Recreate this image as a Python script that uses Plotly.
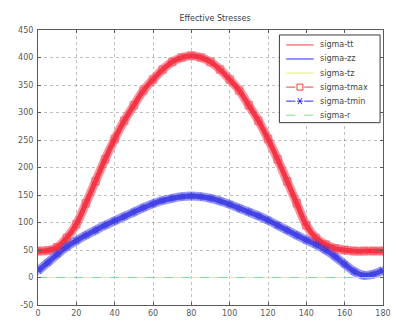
import plotly.graph_objects as go

# ---- data ----
theta = [0, 5, 10, 15, 20, 25, 30, 35, 40, 45, 50, 55, 60, 65, 70, 75, 80, 85, 90,
         95, 100, 105, 110, 115, 120, 125, 130, 135, 140, 145, 150, 155, 160, 165, 170, 175, 180]
sigma_tmax = [48, 49, 55, 72, 97, 135, 175, 215, 252, 285, 313, 340, 360, 378, 392, 400, 403, 400, 392,
              378, 360, 340, 313, 285, 252, 215, 175, 135, 95, 72, 60, 53, 50, 48, 48, 48, 48]
sigma_tmin = [12, 27, 42, 56, 67, 77, 86, 95, 103, 111, 119, 127, 134, 140, 144, 147, 148, 147, 144,
              139, 133, 126, 119, 112, 104, 95, 86, 77, 68, 60, 50, 38, 24, 11, 4, 6, 13]
sigma_tt = sigma_tmax
sigma_zz = sigma_tmin
sigma_tz = [0] * len(theta)
sigma_r = [0] * len(theta)

title = "Effective Stresses"
x_ticks = [0, 20, 40, 60, 80, 100, 120, 140, 160, 180]
y_ticks = [-50, 0, 50, 100, 150, 200, 250, 300, 350, 400, 450]

RED = "rgb(255,60,60)"
BLUE = "rgb(40,40,255)"
YELLOW = "rgb(235,235,120)"
GREEN = "rgb(130,225,130)"

fig = go.Figure()

# thick bands formed by dense markers in the original
fig.add_trace(go.Scatter(x=theta, y=sigma_tmax, mode="lines", showlegend=False,
                         line=dict(color="rgba(250,60,75,0.55)", width=9, shape="spline"),
                         hoverinfo="skip"))
fig.add_trace(go.Scatter(x=theta, y=sigma_tmin, mode="lines", showlegend=False,
                         line=dict(color="rgba(70,70,235,0.55)", width=9, shape="spline"),
                         hoverinfo="skip"))

fig.add_trace(go.Scatter(x=theta, y=sigma_tt, mode="lines", name="sigma-tt",
                         line=dict(color="rgba(240,30,50,0.8)", width=5, shape="spline")))
fig.add_trace(go.Scatter(x=theta, y=sigma_zz, mode="lines", name="sigma-zz",
                         line=dict(color="rgba(50,50,225,0.8)", width=5, shape="spline")))
fig.add_trace(go.Scatter(x=theta, y=sigma_tz, mode="lines", name="sigma-tz",
                         line=dict(color=YELLOW, width=1)))
fig.add_trace(go.Scatter(x=theta, y=sigma_tmax, mode="markers", name="sigma-tmax",
                         marker=dict(symbol="square-open", size=7, color="rgba(245,50,70,0.45)",
                                     line=dict(width=1.5))))
fig.add_trace(go.Scatter(x=theta, y=sigma_tmin, mode="markers", name="sigma-tmin",
                         marker=dict(symbol="asterisk-open", size=7, color="rgba(60,60,230,0.5)",
                                     line=dict(width=1.5, color="rgba(60,60,230,0.5)"))))
fig.add_trace(go.Scatter(x=theta, y=sigma_r, mode="lines", name="sigma-r",
                         line=dict(color=GREEN, width=1, dash="dash")))

# ---- manual MATLAB-like legend (paper coordinates) ----
W, H = 393, 320
L, R, T, B = 38, 2, 30, 14
pw, ph = W - L - R, H - T - B


def px2x(px):
    return (px - L) / pw


def py2y(py):
    return (H - B - py) / ph


legend_items = [
    ("sigma-tt", RED, "solid", None),
    ("sigma-zz", BLUE, "solid", None),
    ("sigma-tz", YELLOW, "solid", None),
    ("sigma-tmax", RED, "dash", "square"),
    ("sigma-tmin", BLUE, "dash", "star"),
    ("sigma-r", GREEN, "dash", None),
]
box_l, box_r, box_t, box_b = 285, 388, 35, 123
fig.add_shape(type="rect", xref="paper", yref="paper",
              x0=px2x(box_l), x1=px2x(box_r), y0=py2y(box_b), y1=py2y(box_t),
              line=dict(color="rgb(60,60,60)", width=1), fillcolor="white", layer="above")
row0, rowstep = 45, 14.1
for i, (name, col, dash, mk) in enumerate(legend_items):
    py = row0 + i * rowstep
    fig.add_shape(type="line", xref="paper", yref="paper",
                  x0=px2x(292), x1=px2x(320), y0=py2y(py), y1=py2y(py),
                  line=dict(color=col, width=1, dash=dash), layer="above")
    if mk == "square":
        fig.add_shape(type="rect", xref="paper", yref="paper",
                      x0=px2x(303), x1=px2x(309), y0=py2y(py + 3), y1=py2y(py - 3),
                      line=dict(color=col, width=1), fillcolor="white", layer="above")
    elif mk == "star":
        for (dx0, dy0, dx1, dy1) in [(-3, 0, 3, 0), (-2, -3, 2, 3), (-2, 3, 2, -3)]:
            fig.add_shape(type="line", xref="paper", yref="paper",
                          x0=px2x(306 + dx0), x1=px2x(306 + dx1),
                          y0=py2y(py + dy0), y1=py2y(py + dy1),
                          line=dict(color=col, width=1), layer="above")
    fig.add_annotation(x=px2x(325), y=py2y(py), xref="paper", yref="paper",
                       xanchor="left", yanchor="middle", text=name, showarrow=False,
                       font=dict(size=8, color="rgb(70,70,70)", family="DejaVu Sans"))

axis_common = dict(showline=True, mirror="ticks", linecolor="rgb(90,90,90)", linewidth=1,
                   ticks="inside", ticklen=3, tickcolor="rgb(90,90,90)",
                   showgrid=True, gridcolor="rgba(0,0,0,0.25)", griddash="dot", gridwidth=1,
                   zeroline=False, tickfont=dict(size=8, color="rgb(90,90,90)",
                                                 family="DejaVu Sans"))

fig.update_layout(
    width=W, height=H,
    margin=dict(l=L, r=R, t=T, b=B),
    paper_bgcolor="white", plot_bgcolor="white",
    showlegend=False,
    hovermode=False,
    title=dict(text=title, x=215 / W, xanchor="center", y=1 - 18 / H,
               yanchor="middle", font=dict(size=8, color="rgb(60,60,60)", family="DejaVu Sans")),
    xaxis=dict(range=[0, 180], tickvals=x_ticks, ticktext=[str(v) for v in x_ticks],
               ticklabelstandoff=0, ticklabeloverflow="allow", **axis_common),
    yaxis=dict(range=[-50, 450], tickvals=y_ticks, ticktext=[str(v) for v in y_ticks],
               ticklabelstandoff=2, **axis_common),
)

fig.write_html("out.html", config={"displayModeBar": False},
               post_script="document.body.style.margin='0';document.body.style.overflow='hidden';")
